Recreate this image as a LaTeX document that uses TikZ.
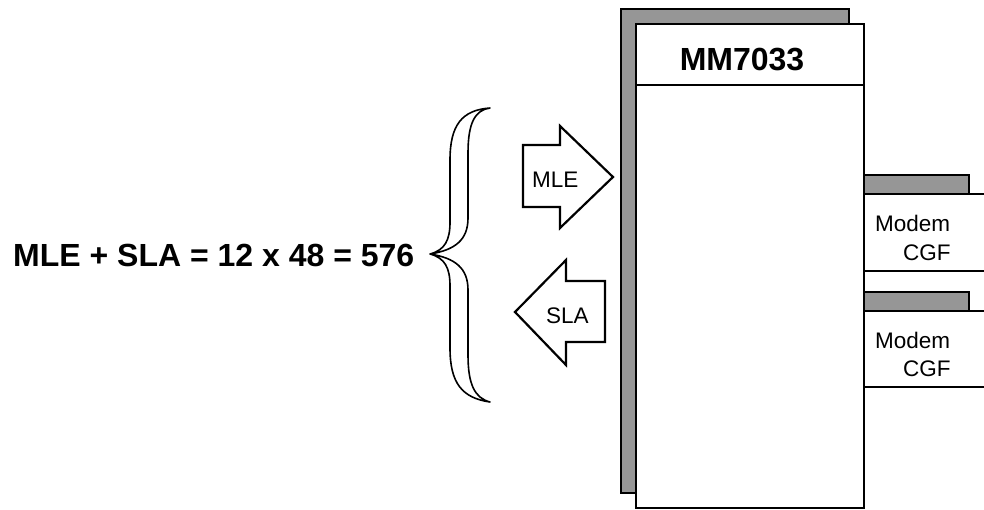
\documentclass[tikz,border=0pt]{standalone}
\usepackage{fontspec}
\setmainfont{Liberation Sans}
\definecolor{shade}{HTML}{969696}
\begin{document}
\begin{tikzpicture}[x=1pt,y=-1pt,
  outl/.style={draw=black,line width=2.2pt,line join=miter},
  back/.style={outl,fill=shade},
  front/.style={outl,fill=white},
  bigtxt/.style={font=\fontsize{32}{36}\selectfont\bfseries,inner sep=0pt},
  smalltxt/.style={font=\fontsize{22.5}{26}\selectfont,inner sep=0pt}]
\useasboundingbox (0,0) rectangle (984,509);
\clip (0,0) rectangle (984,509);
% main module
\draw[back] (621,9) rectangle (849,493);
\draw[front] (636,24) rectangle (864,508);
\draw[outl] (636,85) -- (864,85);
\node[bigtxt,anchor=base] (title) at (742,70) {MM7033};
% modem 1
\draw[back] (864,175) rectangle (969,194);
\draw[front] (864,194) rectangle (992,271);
\node[smalltxt,anchor=base west] (m1a) at (875,231) {Modem};
\node[smalltxt,anchor=base west] (m1b) at (903,260) {CGF};
% modem 2
\draw[back] (864,292) rectangle (969,311);
\draw[front] (864,311) rectangle (992,387);
\node[smalltxt,anchor=base west] (m2a) at (875,348) {Modem};
\node[smalltxt,anchor=base west] (m2b) at (903,376) {CGF};
% MLE arrow
\draw[front] (523,145) -- (560,145) -- (560,126) -- (613,177) -- (560,228) -- (560,207) -- (523,207) -- cycle;
\node[smalltxt,anchor=base west] (mle) at (532,187) {MLE};
% SLA arrow
\draw[front] (605,281) -- (566,281) -- (566,260) -- (515,312) -- (566,365) -- (566,342) -- (605,342) -- cycle;
\node[smalltxt,anchor=base west] (sla) at (546,323) {SLA};
% brace
\draw[draw=black,line width=1.6pt,fill=white,line join=round]
  (490,108) .. controls (462,110) and (450,125) .. (450,160)
  -- (450,222) .. controls (450,240) and (445,250) .. (430,254)
  .. controls (445,258) and (450,268) .. (450,286)
  -- (450,348) .. controls (450,383) and (462,398) .. (490,402)
  .. controls (475,398) and (468,385) .. (468,355)
  -- (468,290) .. controls (468,268) and (455,258) .. (430,254)
  .. controls (455,250) and (468,240) .. (468,218)
  -- (468,153) .. controls (468,123) and (475,110) .. (490,108) -- cycle;
\node[bigtxt,anchor=base west] (eq) at (13,266) {MLE + SLA = 12 x 48 = 576};
\end{tikzpicture}
\end{document}
